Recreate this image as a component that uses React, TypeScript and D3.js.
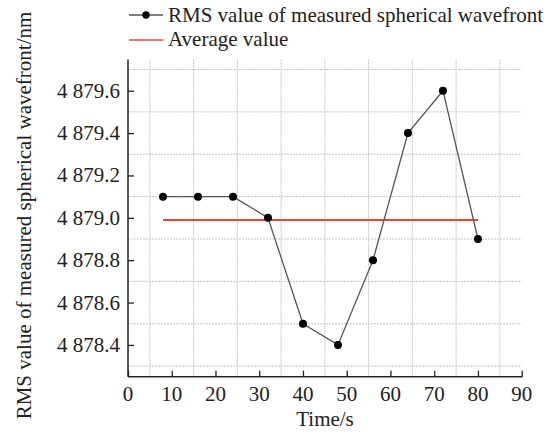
import React, { useEffect, useRef } from 'react';
import * as d3 from 'd3';

const times = [8, 16, 24, 32, 40, 48, 56, 64, 72, 80];
const rmsValues = [4879.1, 4879.1, 4879.1, 4879.0, 4878.5, 4878.4, 4878.8, 4879.4, 4879.6, 4878.9];
const xTicks = [0, 10, 20, 30, 40, 50, 60, 70, 80, 90];
const xGrid = [5, 15, 25, 35, 45, 55, 65, 75, 85];
const yTicks = [4878.4, 4878.6, 4878.8, 4879.0, 4879.2, 4879.4, 4879.6];
const yGrid = [4878.3, 4878.5, 4878.7, 4878.9, 4879.1, 4879.3, 4879.5, 4879.7];
const seriesLabels = ['RMS value of measured spherical wavefront', 'Average value'];

const App = () => {
  const svgRef = useRef<SVGSVGElement>(null);

  useEffect(() => {
    const width = 555;
    const height = 432;
    const font = "'Liberation Serif', 'Times New Roman', serif";
    const fs = 21;
    const left = 128, right = 521.7, top = 59.5, bottom = 376.7;

    const svg = d3.select(svgRef.current);
    svg.selectAll('*').remove();
    svg.attr('width', width).attr('height', height).style('font-family', font);

    const x = d3.scaleLinear().domain([0, 90]).range([left, right]);
    const y = d3.scaleLinear().domain([4878.25, 4879.745]).range([bottom, 60]);

    const locale = d3.formatLocale({ decimal: '.', thousands: ' ', grouping: [3], currency: ['', ''] });
    const fmt = locale.format(',.1f');

    // dotted grid
    const grid = svg.append('g').attr('stroke', '#c4c4c4').attr('stroke-width', 1).attr('stroke-dasharray', '2,1');
    grid.selectAll('.gx').data(xGrid).enter().append('line')
      .attr('x1', d => x(d)).attr('x2', d => x(d))
      .attr('y1', top).attr('y2', bottom);
    grid.selectAll('.gy').data(yGrid).enter().append('line')
      .attr('x1', left).attr('x2', right)
      .attr('y1', d => y(d)).attr('y2', d => y(d));

    // axes, ticks pointing inward
    const xAxis = svg.append('g')
      .attr('transform', `translate(0,${bottom})`)
      .call(d3.axisTop(x).tickValues(xTicks).tickSize(6));
    xAxis.select('.domain').remove();
    xAxis.selectAll('text').remove();
    xAxis.selectAll('line').attr('stroke', '#222').attr('stroke-width', 1.3);

    const yAxis = svg.append('g')
      .attr('transform', `translate(${left},0)`)
      .call(d3.axisRight(y).tickValues(yTicks).tickSize(6));
    yAxis.select('.domain').remove();
    yAxis.selectAll('text').remove();
    yAxis.selectAll('line').attr('stroke', '#222').attr('stroke-width', 1.3);

    svg.append('line').attr('x1', left).attr('x2', right + 0.7).attr('y1', bottom).attr('y2', bottom)
      .attr('stroke', '#222').attr('stroke-width', 1.5);
    svg.append('line').attr('x1', left).attr('x2', left).attr('y1', top).attr('y2', bottom)
      .attr('stroke', '#222').attr('stroke-width', 1.5);

    // tick labels
    svg.append('g').selectAll('text').data(xTicks).enter().append('text')
      .attr('x', d => x(d)).attr('y', bottom + 24)
      .attr('text-anchor', 'middle')
      .attr('font-size', fs).attr('fill', '#222')
      .text(d => d);
    svg.append('g').selectAll('text').data(yTicks).enter().append('text')
      .attr('x', left - 8).attr('y', d => y(d) + 7)
      .attr('text-anchor', 'end')
      .attr('font-size', fs).attr('fill', '#222')
      .text(d => fmt(d));

    // axis titles
    svg.append('text')
      .attr('x', 325).attr('y', 426)
      .attr('text-anchor', 'middle')
      .attr('font-size', fs).attr('fill', '#222')
      .text('Time/s');
    svg.append('text')
      .attr('transform', `translate(31,215.5) rotate(-90)`)
      .attr('text-anchor', 'middle')
      .attr('font-size', fs).attr('fill', '#222')
      .text('RMS value of measured spherical wavefront/nm');

    // average line
    const avg = d3.mean(rmsValues) as number;
    svg.append('line')
      .attr('x1', x(times[0])).attr('x2', x(times[times.length - 1]))
      .attr('y1', y(avg)).attr('y2', y(avg))
      .attr('stroke', '#e8473c').attr('stroke-width', 2);

    // measured series
    const pts = times.map((t, i) => ({ t, v: rmsValues[i] }));
    const line = d3.line<{ t: number; v: number }>().x(d => x(d.t)).y(d => y(d.v));
    svg.append('path').datum(pts).attr('d', line)
      .attr('fill', 'none').attr('stroke', '#555').attr('stroke-width', 1.3);
    svg.append('g').selectAll('circle').data(pts).enter().append('circle')
      .attr('cx', d => x(d.t)).attr('cy', d => y(d.v)).attr('r', 4)
      .attr('fill', '#000');

    // legend
    const lg = svg.append('g');
    lg.append('line').attr('x1', 129).attr('x2', 163).attr('y1', 15).attr('y2', 15)
      .attr('stroke', '#555').attr('stroke-width', 1.3);
    lg.append('circle').attr('cx', 146).attr('cy', 15).attr('r', 3.7).attr('fill', '#000');
    lg.append('line').attr('x1', 129).attr('x2', 163).attr('y1', 40).attr('y2', 40)
      .attr('stroke', '#e8473c').attr('stroke-width', 1.5);
    lg.selectAll('text').data(seriesLabels).enter().append('text')
      .attr('x', 168).attr('y', (d, i) => 22 + i * 24)
      .attr('font-size', fs).attr('fill', '#222')
      .text(d => d);
  }, []);

  return <svg ref={svgRef} style={{ position: 'absolute', left: 0, top: 0 }}></svg>;
};

export default App;
